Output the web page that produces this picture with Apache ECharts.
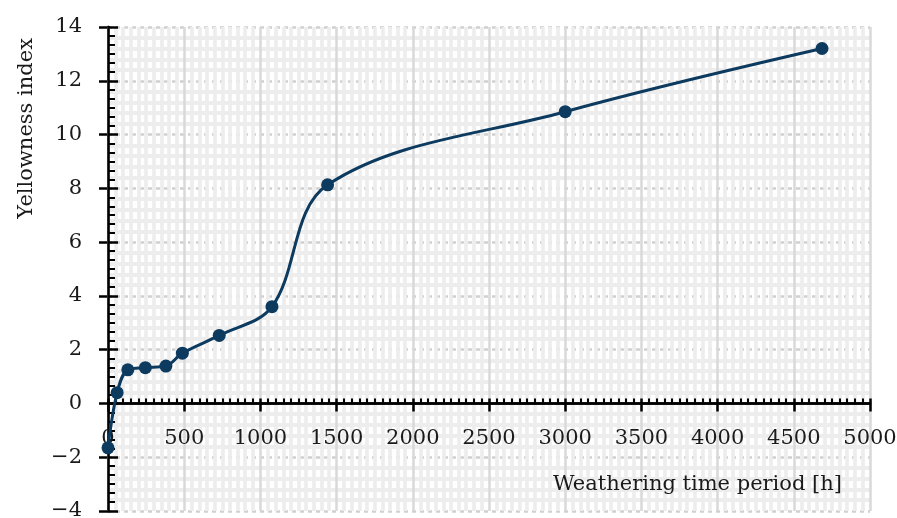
<!DOCTYPE html>
<html>
<head>
<meta charset="utf-8">
<script src="https://cdn.jsdelivr.net/npm/echarts@6/dist/echarts.min.js"></script>
<style>
  html, body { margin: 0; padding: 0; background: #ffffff; }
  #chart { width: 897px; height: 518px; }
</style>
</head>
<body>
<div id="chart"></div>
<script>
// Weathering time [h] and the measured yellowness index at each step
const hours = [0, 60, 130, 245, 380, 488, 730, 1076, 1441, 3000, 4685];
const yellowness = [-1.65, 0.4, 1.25, 1.33, 1.39, 1.87, 2.53, 3.6, 8.13, 10.85, 13.2];

const xTicks = { min: 0, max: 5000, interval: 500 };
const yTicks = { min: -4, max: 14, interval: 2 };

const xTitle = 'Weathering time period [h]';
const yTitle = 'Yellowness index';

const FONT = 'DejaVu Serif';
const INK = '#1a1a1a';
const LINE = '#0d3b60';

const chart = echarts.init(document.getElementById('chart'), null, { renderer: 'canvas' });

const points = hours.map((h, i) => [h, yellowness[i]]);
const plain = v => String(v).replace('-', '\u2212');

// the horizontal axis crosses at y = 0, which sits this many px above the plot bottom
const plotTop = 27, plotBottom = 7, chartH = 518;
const plotH = chartH - plotTop - plotBottom;
const zeroLift = plotH * (0 - yTicks.min) / (yTicks.max - yTicks.min);

const tickFont = { color: INK, fontFamily: FONT, fontSize: 21 };

chart.setOption({
  animation: false,
  backgroundColor: '#ffffff',
  grid: { left: 108, right: 27, top: plotTop, bottom: plotBottom, containLabel: false, outerBoundsMode: 'none' },
  xAxis: [
    {
      // background axis: outer ticks and the vertical grid
      type: 'value', min: xTicks.min, max: xTicks.max, interval: xTicks.interval,
      z: 1,
      axisLine: { onZero: true, lineStyle: { color: '#000', width: 2.5 } },
      axisTick: { show: true, inside: false, length: 8, lineStyle: { color: '#000', width: 2.5 } },
      minorTick: { show: false, splitNumber: 10 },
      axisLabel: { show: false },
      splitLine: { show: true, lineStyle: { color: '#d9d9d9', width: 2.5, type: 'solid' } },
      minorSplitLine: { show: true, lineStyle: { color: '#ededed', width: 3.6 } }
    },
    {
      // front axis: labels plus inner major / minor ticks
      type: 'value', min: xTicks.min, max: xTicks.max, interval: xTicks.interval,
      position: 'bottom', offset: -zeroLift, z: 3,
      axisLine: { onZero: false, show: true, lineStyle: { color: '#000', width: 2.5 } },
      axisTick: { show: true, inside: true, length: 5, lineStyle: { color: '#000', width: 2.5 } },
      minorTick: { show: true, splitNumber: 10, length: 5, lineStyle: { color: '#000', width: 2 } },
      axisLabel: Object.assign({ show: true, margin: 25, formatter: plain }, tickFont),
      splitLine: { show: false }
    }
  ],
  yAxis: [
    {
      type: 'value', min: yTicks.min, max: yTicks.max, interval: yTicks.interval,
      z: 0.5,
      axisLine: { onZero: false, lineStyle: { color: '#000', width: 2.5 } },
      axisTick: { show: true, inside: false, length: 9, lineStyle: { color: '#000', width: 2.5 } },
      minorTick: { show: false, splitNumber: 5 },
      axisLabel: { show: false },
      splitLine: { show: true, lineStyle: { color: '#d0d0d0', width: 2.5, type: [4, 4] } },
      minorSplitLine: { show: true, lineStyle: { color: '#ededed', width: 4 } }
    },
    {
      type: 'value', min: yTicks.min, max: yTicks.max, interval: yTicks.interval,
      position: 'left', z: 3,
      axisLine: { onZero: false, show: true, lineStyle: { color: '#000', width: 2.5 } },
      axisTick: { show: true, inside: true, length: 10, lineStyle: { color: '#000', width: 2.5 } },
      minorTick: { show: true, splitNumber: 6, length: 7, lineStyle: { color: '#000', width: 2 } },
      axisLabel: Object.assign({ show: true, margin: 26, formatter: plain }, tickFont),
      splitLine: { show: false }
    }
  ],
  graphic: [
    {
      type: 'text', left: 16, top: 38, z: 100,
      rotation: Math.PI / 2,
      style: { text: yTitle, font: '21px "' + FONT + '"', fill: INK }
    },
    {
      type: 'text', right: 55, top: 474, z: 100,
      style: { text: xTitle, font: '21px "' + FONT + '"', fill: INK }
    }
  ],
  series: [
    {
      type: 'line',
      xAxisIndex: 0, yAxisIndex: 0,
      data: points,
      smooth: 0.35,
      symbol: 'circle',
      symbolSize: 13,
      z: 5,
      lineStyle: { color: LINE, width: 3 },
      itemStyle: { color: LINE }
    }
  ]
});
</script>
</body>
</html>
